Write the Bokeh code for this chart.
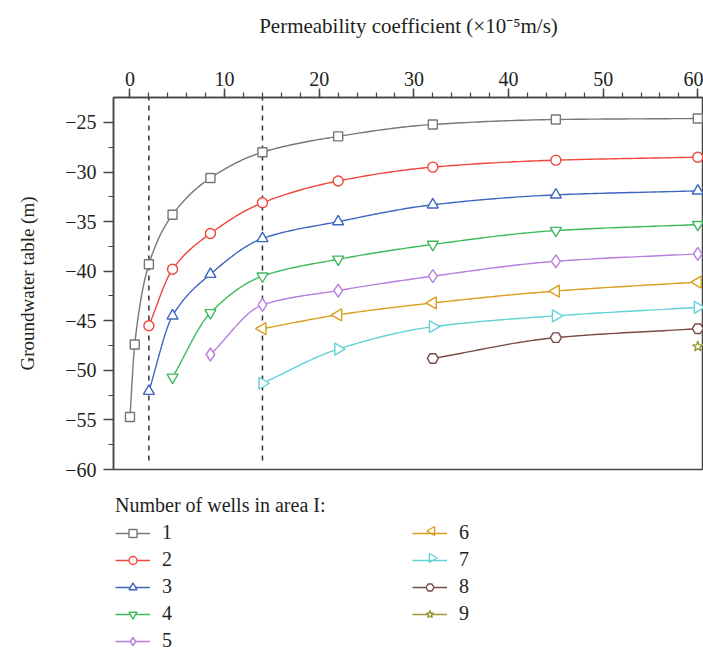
import numpy as np
from bokeh.plotting import figure
from bokeh.layouts import column
from bokeh.models import Range1d, FixedTicker, Legend, LegendItem
from bokeh.embed import file_html
from bokeh.resources import INLINE

# ---- data ----
s1_x = [0, 0.5, 2, 4.5, 8.5, 14, 22, 32, 45, 60]
s1_y = [-54.7, -47.4, -39.3, -34.3, -30.6, -28.0, -26.4, -25.2, -24.7, -24.6]
s2_x = [2, 4.5, 8.5, 14, 22, 32, 45, 60]
s2_y = [-45.5, -39.8, -36.2, -33.1, -30.9, -29.5, -28.8, -28.5]
s3_x = [2, 4.5, 8.5, 14, 22, 32, 45, 60]
s3_y = [-52.1, -44.5, -40.3, -36.7, -35.0, -33.3, -32.3, -31.9]
s4_x = [4.5, 8.5, 14, 22, 32, 45, 60]
s4_y = [-50.7, -44.2, -40.5, -38.8, -37.3, -35.9, -35.3]
s5_x = [8.5, 14, 22, 32, 45, 60]
s5_y = [-48.4, -43.4, -41.95, -40.5, -39.0, -38.25]
s6_x = [14, 22, 32, 45, 60]
s6_y = [-45.8, -44.4, -43.2, -42.0, -41.1]
s7_x = [14, 22, 32, 45, 60]
s7_y = [-51.3, -47.85, -45.6, -44.5, -43.65]
s8_x = [32, 45, 60]
s8_y = [-48.8, -46.7, -45.8]
s9_x = [60]
s9_y = [-47.6]

labels = ["1", "2", "3", "4", "5", "6", "7", "8", "9"]
x_ticks = [0, 10, 20, 30, 40, 50, 60]
y_ticks = [-60, -55, -50, -45, -40, -35, -30, -25]
ref_x = [2, 14]          # dashed reference lines
ref_bottom = -59.1

series_x = [s1_x, s2_x, s3_x, s4_x, s5_x, s6_x, s7_x, s8_x, s9_x]
series_y = [s1_y, s2_y, s3_y, s4_y, s5_y, s6_y, s7_y, s8_y, s9_y]

colors = ["#777777", "#f0463c", "#3f66bf", "#3fb95e", "#b77de0",
          "#d89f1e", "#64d2d6", "#7a4a48", "#9a9a34"]
markers = ["square", "circle", "triangle", "inverted_triangle", "diamond",
           "triangle", "triangle", "hex", "star"]
angles = [0, 0, 0, 0, 0, np.pi / 2, -np.pi / 2, 0, 0]
sizes = [9, 10, 11, 11, 13, 12, 12, 11, 11]

FONT = "Liberation Serif"
TXT = "#231f20"
FS = "20px"


def smooth(xs, ys, n=30):
    """Monotone cubic (Fritsch-Carlson) curve through the data points."""
    x = np.asarray(xs, float)
    y = np.asarray(ys, float)
    if len(x) < 3:
        return x, y
    h = np.diff(x)
    d = np.diff(y) / h
    m = np.zeros_like(x)
    m[0], m[-1] = d[0], d[-1]
    for i in range(1, len(x) - 1):
        if d[i - 1] * d[i] <= 0:
            m[i] = 0
        else:
            w1 = 2 * h[i] + h[i - 1]
            w2 = h[i] + 2 * h[i - 1]
            m[i] = (w1 + w2) / (w1 / d[i - 1] + w2 / d[i])
    xo, yo = [], []
    for i in range(len(x) - 1):
        t = np.linspace(0, 1, n, endpoint=(i == len(x) - 2))
        h00 = 2 * t**3 - 3 * t**2 + 1
        h10 = t**3 - 2 * t**2 + t
        h01 = -2 * t**3 + 3 * t**2
        h11 = t**3 - t**2
        xo.extend(x[i] + t * h[i])
        yo.extend(h00 * y[i] + h10 * h[i] * m[i] + h01 * y[i + 1] + h11 * h[i] * m[i + 1])
    return np.array(xo), np.array(yo)


p = figure(width=703, height=490,
           x_range=Range1d(-1.74, 60.6), y_range=Range1d(-60, -22.48),
           x_axis_location="above",
           output_backend="svg", toolbar_location=None,
           min_border_left=113, min_border_right=0,
           min_border_top=97, min_border_bottom=21)
p.background_fill_color = "white"
p.border_fill_color = "white"
p.xgrid.visible = False
p.ygrid.visible = False
p.outline_line_color = "#444444"
p.outline_line_width = 1.5

# axes
p.xaxis.axis_label = "Permeability coefficient (×10⁻⁵m/s)"
p.yaxis.axis_label = "Groundwater table (m)"
p.xaxis.ticker = FixedTicker(ticks=x_ticks, minor_ticks=list(range(0, 61, 2)))
p.yaxis.ticker = FixedTicker(ticks=y_ticks, minor_ticks=[v + 2.5 for v in y_ticks[:-1]])
p.yaxis.major_label_overrides = {v: "−" + str(abs(v)) for v in y_ticks}
for ax in (p.xaxis[0], p.yaxis[0]):
    ax.axis_line_color = "#444444"
    ax.axis_line_width = 1.5
    ax.major_tick_line_color = "#444444"
    ax.minor_tick_line_color = "#444444"
    ax.major_tick_line_width = 1.5
    ax.minor_tick_line_width = 1.2
    ax.major_tick_in = 0
    ax.minor_tick_in = 0
    ax.major_tick_out = 9
    ax.minor_tick_out = 5
    ax.major_label_text_font = FONT
    ax.major_label_text_font_size = FS
    ax.major_label_text_color = TXT
    ax.axis_label_text_font = FONT
    ax.axis_label_text_font_size = FS
    ax.axis_label_text_font_style = "normal"
    ax.axis_label_text_color = TXT
p.xaxis.axis_label_text_font_size = "21px"
p.yaxis.axis_label_text_font_size = "19px"
p.yaxis.major_tick_out = 10
p.yaxis.major_label_standoff = 7
p.yaxis.axis_label_standoff = 24
p.xaxis.major_label_standoff = 3
p.xaxis.axis_label_standoff = 31

# dashed reference lines
p.segment(x0=ref_x, x1=ref_x, y0=[ref_bottom] * len(ref_x), y1=[p.y_range.end] * len(ref_x),
          line_color="#333333", line_width=1.5, line_dash="5 5")

# legend panel below the chart; its ranges are in page pixels so that the
# series drawn here (for the legend keys) stay out of view
q = figure(width=703, height=160, x_range=Range1d(113, 703), y_range=Range1d(650, 490),
           x_axis_location=None, y_axis_location=None,
           output_backend="svg", toolbar_location=None,
           min_border_left=0, min_border_right=0, min_border_top=0, min_border_bottom=0)
q.xgrid.visible = False
q.ygrid.visible = False
q.outline_line_color = None
q.background_fill_color = "white"
q.border_fill_color = "white"

# legend key centres for the rotated-triangle items (Bokeh legends ignore marker angle)
key_x = [431.5, 431.5]
key_y = [530.5, 557.5]
rotated = [5, 6]

items = []
for i in range(9):
    sx, sy = smooth(series_x[i], series_y[i])
    p.line(sx, sy, line_color=colors[i], line_width=1.4)
    p.scatter(series_x[i], series_y[i], marker=markers[i], size=sizes[i],
              angle=angles[i], line_color=colors[i], line_width=1.4,
              fill_color="white")
    lr = q.line(series_x[i], series_y[i], line_color=colors[i], line_width=1.4)
    rends = [lr]
    if i not in rotated:
        sr = q.scatter(series_x[i], series_y[i], marker=markers[i], size=sizes[i],
                       angle=angles[i], line_color=colors[i], line_width=1.4,
                       fill_color="white")
        rends.append(sr)
    items.append(LegendItem(label=labels[i], renderers=rends))

legend = Legend(items=items, title="Number of wells in area I:",
                nrows=5, orientation="vertical", location=(2, -2),
                margin=0, padding=2, spacing=4,
                glyph_width=35, glyph_height=20, label_height=20,
                label_standoff=12, label_width=246,
                title_standoff=4)
legend.label_text_font = FONT
legend.label_text_font_size = FS
legend.label_text_color = TXT
legend.title_text_font = FONT
legend.title_text_font_size = FS
legend.title_text_font_style = "normal"
legend.title_text_color = TXT
legend.border_line_color = None
legend.background_fill_alpha = 0
q.add_layout(legend)

for k, i in enumerate(rotated):
    q.scatter([key_x[k]], [key_y[k]], marker=markers[i], size=9, angle=angles[i],
              line_color=colors[i], line_width=1.4, fill_color="white")

layout = column(p, q, spacing=0)
open("out.html", "w").write(file_html(layout, INLINE))
